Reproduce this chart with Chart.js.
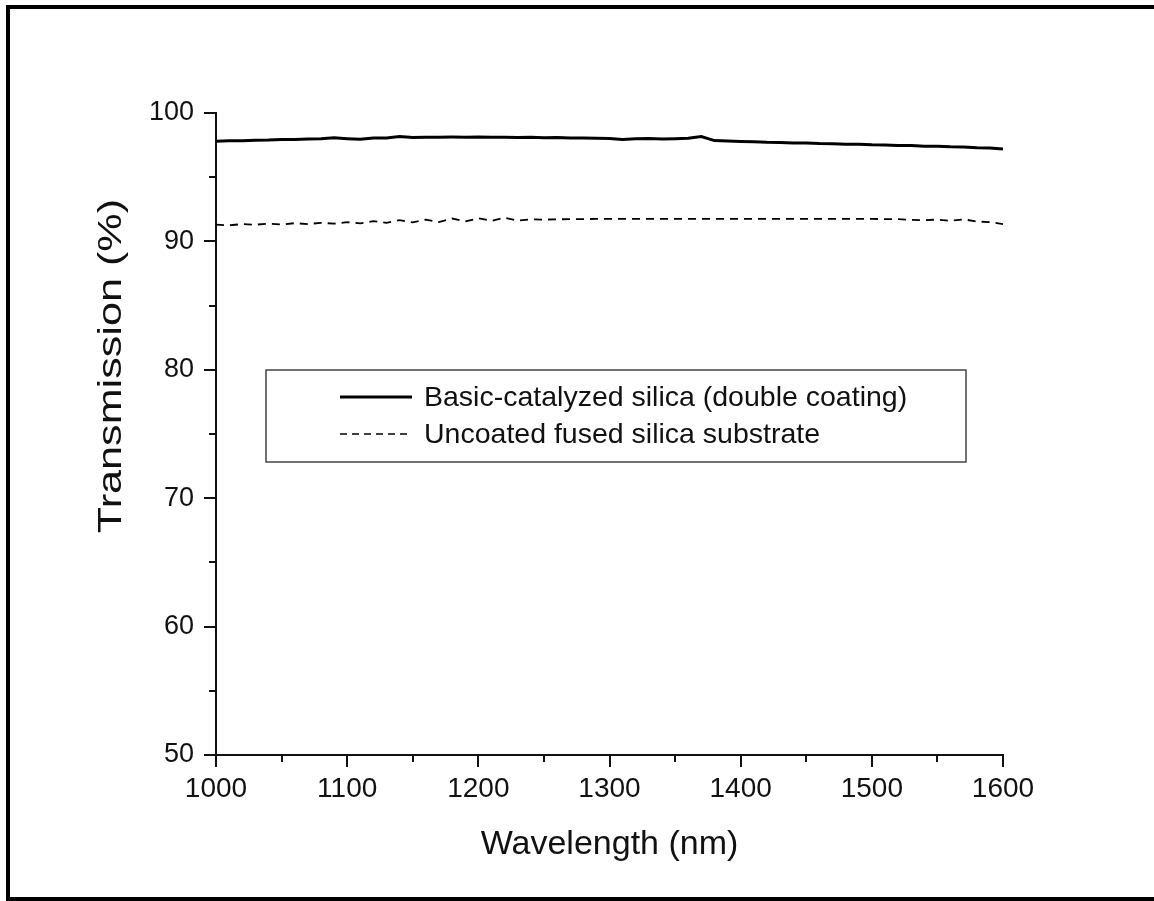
<!DOCTYPE html>
<html>
<head>
<meta charset="utf-8">
<script src="https://cdn.jsdelivr.net/npm/chart.js@4.4.1/dist/chart.umd.min.js"></script>
<style>
  html, body { margin: 0; padding: 0; background: #fff; overflow: hidden; }
  #wrap { position: relative; width: 1154px; height: 901px; overflow: hidden; }
  #frame { position: absolute; left: 6px; top: 5px; width: 1160px; height: 888px; border: 4px solid #000; box-sizing: content-box; pointer-events: none; }
  canvas { position: absolute; left: 0; top: 0; }
</style>
</head>
<body>
<div id="wrap">
  <canvas id="c" width="1154" height="901"></canvas>
  <div id="frame"></div>
</div>
<script>
const wavelengths = [1000,1010,1020,1030,1040,1050,1060,1070,1080,1090,1100,1110,1120,1130,1140,1150,1160,1170,1180,1190,1200,1210,1220,1230,1240,1250,1260,1270,1280,1290,1300,1310,1320,1330,1340,1350,1360,1370,1380,1390,1400,1410,1420,1430,1440,1450,1460,1470,1480,1490,1500,1510,1520,1530,1540,1550,1560,1570,1580,1590,1600];

const coatedValues = [97.80,97.83,97.84,97.88,97.89,97.93,97.94,97.98,97.99,98.07,98.00,97.95,98.05,98.06,98.17,98.10,98.11,98.12,98.13,98.12,98.13,98.11,98.12,98.10,98.11,98.08,98.09,98.06,98.06,98.03,98.01,97.93,98.00,98.01,97.97,97.99,98.03,98.17,97.85,97.81,97.78,97.76,97.72,97.71,97.67,97.66,97.62,97.61,97.57,97.56,97.52,97.51,97.46,97.46,97.41,97.41,97.37,97.36,97.29,97.27,97.20];

const uncoatedValues = [91.30,91.25,91.35,91.30,91.38,91.32,91.42,91.35,91.45,91.38,91.50,91.40,91.58,91.45,91.65,91.48,91.70,91.50,91.78,91.55,91.80,91.60,91.85,91.62,91.72,91.70,91.72,91.73,91.74,91.75,91.75,91.75,91.75,91.76,91.75,91.75,91.75,91.76,91.75,91.75,91.75,91.75,91.76,91.75,91.75,91.75,91.75,91.76,91.75,91.75,91.75,91.74,91.73,91.68,91.65,91.70,91.60,91.72,91.55,91.50,91.35];

const seriesLabels = ['Basic-catalyzed silica (double coating)', 'Uncoated fused silica substrate'];
const xTitle = 'Wavelength (nm)';
const yTitle = 'Transmission (%)';
const xTicks = [1000,1100,1200,1300,1400,1500,1600];
const yTicks = [50,60,70,80,90,100];
const xMinorTicks = [1050,1150,1250,1350,1450,1550];
const yMinorTicks = [55,65,75,85,95];

const FONT = "'Liberation Sans', Arial, sans-serif";
const INK = '#111';

const minorTickPlugin = {
  id: 'minorTicks',
  afterDraw(chart) {
    const ctx = chart.ctx;
    const xs = chart.scales.x, ys = chart.scales.y;
    ctx.save();
    ctx.strokeStyle = INK;
    ctx.lineWidth = 2;
    ctx.beginPath();
    xMinorTicks.forEach(v => {
      const px = Math.round(xs.getPixelForValue(v));
      ctx.moveTo(px, xs.top);
      ctx.lineTo(px, xs.top + 7);
    });
    yMinorTicks.forEach(v => {
      const py = Math.round(ys.getPixelForValue(v));
      ctx.moveTo(ys.right, py);
      ctx.lineTo(ys.right - 7, py);
    });
    ctx.stroke();
    ctx.restore();
  }
};

const yTitlePlugin = {
  id: 'yTitle',
  afterDraw(chart) {
    const ctx = chart.ctx;
    ctx.save();
    ctx.translate(112, 366);
    ctx.rotate(-Math.PI / 2);
    ctx.scale(1.27, 1);
    ctx.fillStyle = INK;
    ctx.font = "34px " + FONT;
    ctx.textAlign = 'center';
    ctx.textBaseline = 'middle';
    ctx.fillText(yTitle, 0, 0);
    ctx.restore();
  }
};

const legendBoxPlugin = {
  id: 'legendBox',
  afterDraw(chart) {
    const ctx = chart.ctx;
    const ca = chart.chartArea;
    const bx = ca.left + 50, by = 370, bw = 700, bh = 92;
    ctx.save();
    ctx.fillStyle = '#fff';
    ctx.fillRect(bx, by, bw, bh);
    ctx.strokeStyle = '#444';
    ctx.lineWidth = 1.5;
    ctx.strokeRect(bx, by, bw, bh);
    const rows = [397, 434];
    chart.data.datasets.forEach((ds, i) => {
      ctx.beginPath();
      ctx.strokeStyle = ds.borderColor;
      ctx.lineWidth = i === 0 ? 3 : 1.3;
      ctx.setLineDash(i === 0 ? [] : [7, 5]);
      ctx.moveTo(bx + 74, rows[i]);
      ctx.lineTo(bx + 146, rows[i]);
      ctx.stroke();
      ctx.setLineDash([]);
      ctx.fillStyle = INK;
      ctx.font = "28.5px " + FONT;
      ctx.textBaseline = 'middle';
      ctx.textAlign = 'left';
      ctx.fillText(ds.label, bx + 158, rows[i] + 1);
    });
    ctx.restore();
  }
};

new Chart(document.getElementById('c'), {
  type: 'line',
  data: {
    labels: wavelengths,
    datasets: [
      {
        label: seriesLabels[0],
        data: wavelengths.map((w, i) => ({x: w, y: coatedValues[i]})),
        borderColor: '#000',
        borderWidth: 3,
        pointRadius: 0,
        tension: 0,
        fill: false
      },
      {
        label: seriesLabels[1],
        data: wavelengths.map((w, i) => ({x: w, y: uncoatedValues[i]})),
        borderColor: '#000',
        borderWidth: 1.8,
        borderDash: [8, 6],
        pointRadius: 0,
        tension: 0,
        fill: false
      }
    ]
  },
  options: {
    responsive: false,
    animation: false,
    devicePixelRatio: 1,
    layout: { padding: { left: 16, top: 113, right: 151, bottom: 0 } },
    plugins: { legend: { display: false }, tooltip: { enabled: false } },
    scales: {
      x: {
        type: 'linear',
        min: 1000, max: 1600,
        afterBuildTicks: s => { s.ticks = xTicks.map(v => ({value: v})); },
        afterFit: s => { s.height = 146; },
        grid: { drawOnChartArea: false, drawTicks: true, tickLength: 12, lineWidth: 2, tickWidth: 2, tickColor: INK, color: INK },
        border: { display: true, color: INK, width: 2 },
        ticks: { color: INK, font: { family: FONT, size: 28 }, padding: 5, maxRotation: 0, autoSkip: false, callback: v => String(v) },
        title: { display: true, text: xTitle, color: INK, font: { family: FONT, size: 34 }, padding: { top: 0, bottom: 36 } }
      },
      y: {
        type: 'linear',
        min: 50, max: 100,
        afterBuildTicks: s => { s.ticks = yTicks.map(v => ({value: v})); },
        afterFit: s => { s.width = 200; },
        grid: { drawOnChartArea: false, drawTicks: true, tickLength: 12, lineWidth: 2, tickWidth: 2, tickColor: INK, color: INK },
        border: { display: true, color: INK, width: 2 },
        ticks: { color: INK, font: { family: FONT, size: 27 }, padding: 10, autoSkip: false, callback: v => String(v) },
        title: { display: false }
      }
    }
  },
  plugins: [minorTickPlugin, legendBoxPlugin, yTitlePlugin]
});
</script>
</body>
</html>
